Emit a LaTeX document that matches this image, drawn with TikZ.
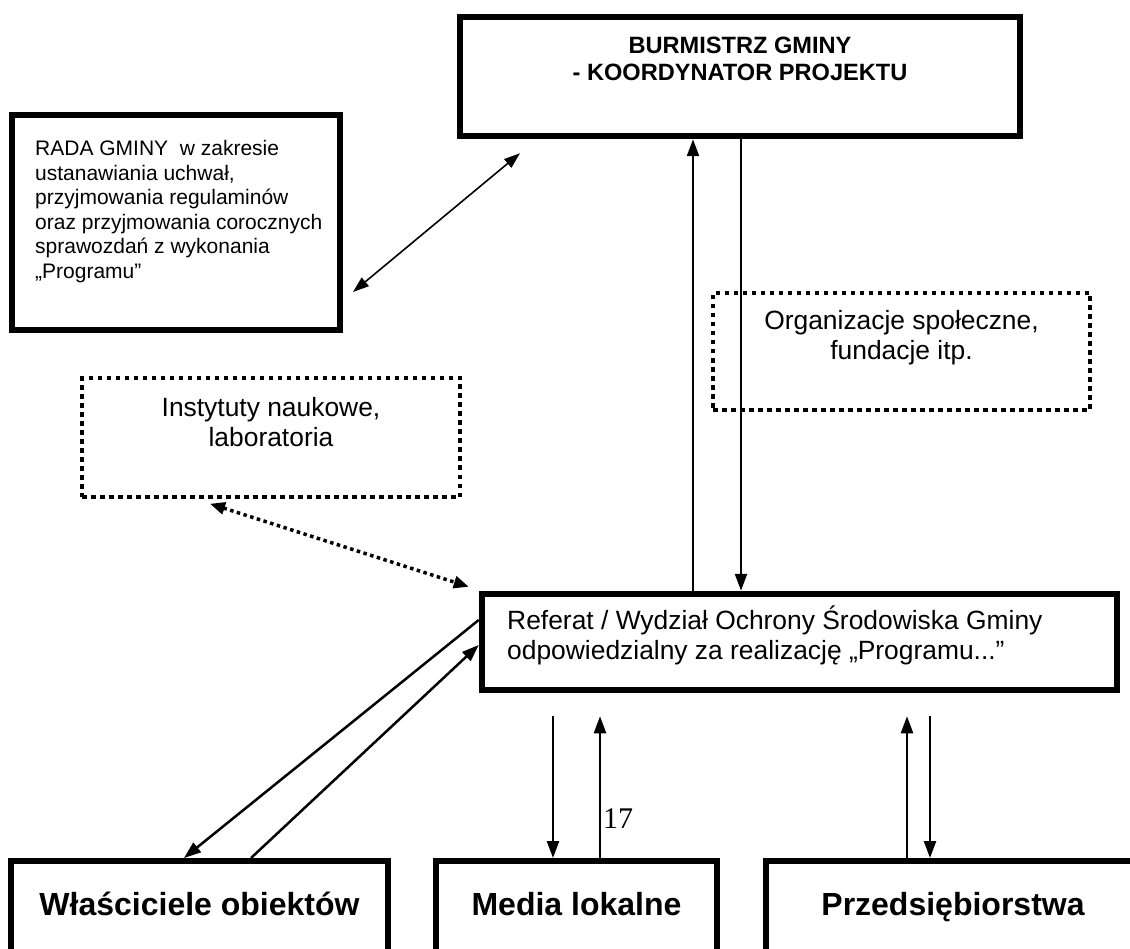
\documentclass[tikz,border=0pt]{standalone}
\usepackage{fontspec}
\setmainfont{Liberation Sans}
\newfontfamily\timesfont{Liberation Serif}
\usetikzlibrary{arrows.meta,positioning}

\tikzset{
  frame/.style={draw, line width=6.5pt, inner sep=0pt},
  lowframe/.style={draw, line width=5.5pt, inner sep=0pt},
  dotframe/.style={draw, line width=4.5pt, dash pattern=on 4.5pt off 4.5pt, inner sep=0pt},
  txt/.style={font=\fontsize{26.4}{30}\selectfont, align=center, inner sep=0pt},
  radatxt/.style={font=\fontsize{21}{24.6}\selectfont, align=left, inner sep=0pt},
  headtxt/.style={font=\bfseries\fontsize{23.6}{27}\selectfont, align=center, inner sep=0pt},
  lowtxt/.style={font=\bfseries\fontsize{32}{36}\selectfont, inner sep=0pt},
  arr/.style={-{Triangle[length=17pt,width=12pt]}, line width=2.5pt},
  thinarr/.style={{Triangle[length=16pt,width=11pt]}-{Triangle[length=16pt,width=11pt]}, line width=1.6pt},
  dotarr/.style={{Triangle[length=15pt,width=12pt]}-{Triangle[length=15pt,width=12pt]}, line width=3.5pt, dash pattern=on 3.5pt off 3.5pt}
}

\begin{document}
\begin{tikzpicture}[x=1pt, y=1pt]
  \useasboundingbox (0,0) rectangle (1130,-949);
  \fill[white] (0,0) rectangle (1130,-949);
  % top: burmistrz
  \node[frame, minimum width=560pt, minimum height=119pt] (burm) at (740,-76.5) {};
  \node[headtxt, anchor=north] (burmtxt) at (740,-37) {BURMISTRZ GMINY\\- KOORDYNATOR PROJEKTU};
  % rada gminy
  \node[frame, line width=6pt, minimum width=328pt, minimum height=215pt] (rada) at (176,-222.5) {};
  \node[radatxt, anchor=north west] (radatext) at (35,-140) {RADA GMINY\ \ w zakresie\\ustanawiania uchwał,\\przyjmowania regulaminów\\oraz przyjmowania corocznych\\sprawozdań z wykonania\\„Programu”};
  % dotted partners
  \node[dotframe, minimum width=377pt, minimum height=117pt] (org) at (901.5,-351.5) {};
  \node[txt, anchor=north] (orgtxt) at (901.5,-310.5) {Organizacje społeczne,\\fundacje itp.};
  \node[dotframe, minimum width=378pt, minimum height=119pt] (inst) at (271,-437.5) {};
  \node[txt, anchor=north] (insttxt) at (271,-397) {Instytuty naukowe,\\laboratoria};
  % referat
  \node[frame, minimum width=635pt, minimum height=96pt] (ref) at (799.5,-642) {};
  \node[txt, align=left, anchor=north west] (reftxt) at (507,-606) {Referat / Wydział Ochrony Środowiska Gminy\\odpowiedzialny za realizację „Programu...”};
  % bottom row (cut by the page edge)
  \node[lowframe, minimum width=377pt, minimum height=140pt, anchor=north] (wlas) at (199.5,-858) {};
  \node[lowtxt, anchor=base] (wlastxt) at (199.5,-915) {Właściciele obiektów};
  \node[lowframe, minimum width=281pt, minimum height=140pt, anchor=north] (media) at (576.5,-858) {};
  \node[lowtxt, anchor=base] (mediatxt) at (576.5,-915) {Media lokalne};
  \node[lowframe, minimum width=374pt, minimum height=140pt, anchor=north] (przed) at (953,-858) {};
  \node[lowtxt, anchor=base] (przedtxt) at (953,-915) {Przedsiębiorstwa};
  \node[anchor=base west, inner sep=0pt, font=\timesfont\fontsize{30}{32}\selectfont] (pnum) at (603,-828) {17};
  % connectors
  \draw[thinarr] ([shift={(10,-69.5)}]rada.east) -- ([shift={(-220,-14)}]burm.south);
  \draw[arr] ([xshift=-106.5pt]ref.north) -- ([xshift=-47pt]burm.south);
  \draw[arr] ([xshift=1pt]burm.south) -- ([xshift=-58.5pt]ref.north);
  \draw[dotarr] ([shift={(-61,-4.5)}]inst.south) -- ([shift={(-10,4)}]ref.north west);
  \draw[arr] ([yshift=22pt]ref.west) -- ([xshift=-15.5pt]wlas.north);
  \draw[arr] ([xshift=51.5pt]wlas.north) -- ([yshift=-3pt]ref.west);
  \draw[arr] ([shift={(-246.5,-23)}]ref.south) -- ([xshift=-23.5pt]media.north);
  \draw[arr] ([xshift=23.5pt]media.north) -- ([shift={(-199.5,-23)}]ref.south);
  \draw[arr] ([xshift=-46pt]przed.north) -- ([shift={(107.5,-23)}]ref.south);
  \draw[arr] ([shift={(130.5,-23)}]ref.south) -- ([xshift=-23pt]przed.north);
\end{tikzpicture}
\end{document}
